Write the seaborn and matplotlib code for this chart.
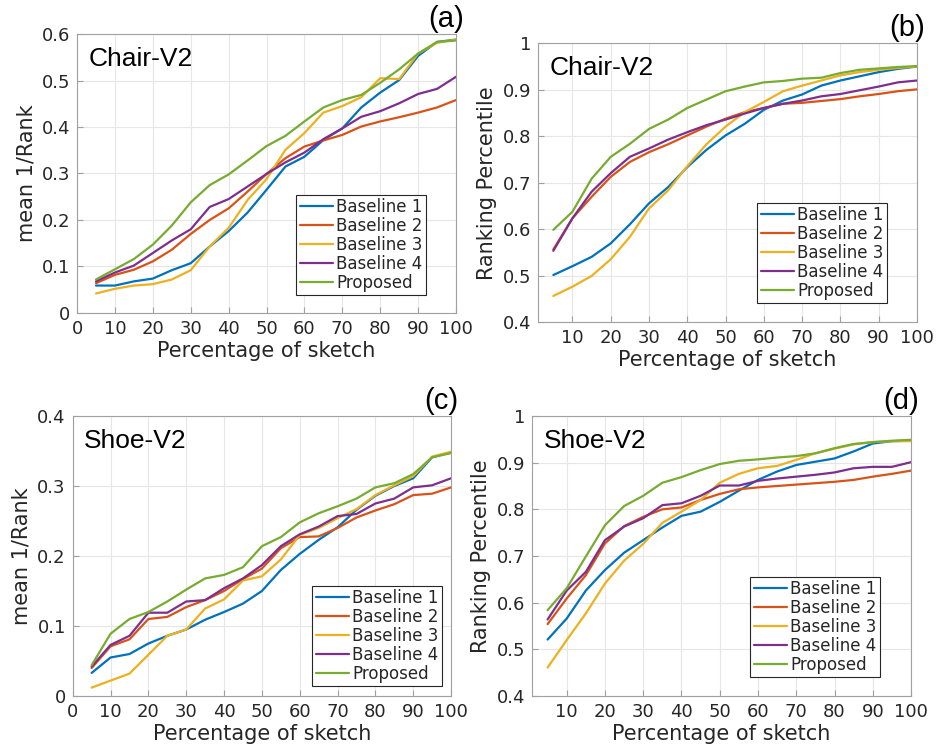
import numpy as np
import pandas as pd
import seaborn as sns
import matplotlib
matplotlib.use("Agg")
import matplotlib.pyplot as plt

# percentage of sketch shown
pct = [5, 10, 15, 20, 25, 30, 35, 40, 45, 50, 55, 60, 65, 70, 75, 80, 85, 90, 95, 100]
methods = ["Baseline 1", "Baseline 2", "Baseline 3", "Baseline 4", "Proposed"]
colors = ["#0072BD", "#D95319", "#EDB120", "#7E2F8E", "#77AC30"]

# (a) Chair-V2, mean 1/Rank
chair_rank_b1 = [0.059, 0.059, 0.068, 0.074, 0.092, 0.107, 0.143, 0.176, 0.216, 0.265,
                 0.315, 0.336, 0.372, 0.397, 0.442, 0.474, 0.501, 0.553, 0.583, 0.588]
chair_rank_b2 = [0.064, 0.082, 0.093, 0.111, 0.136, 0.170, 0.200, 0.225, 0.261, 0.299,
                 0.333, 0.358, 0.371, 0.383, 0.401, 0.412, 0.421, 0.431, 0.442, 0.458]
chair_rank_b3 = [0.042, 0.052, 0.059, 0.062, 0.072, 0.092, 0.143, 0.183, 0.243, 0.288,
                 0.351, 0.387, 0.431, 0.445, 0.464, 0.505, 0.503, 0.558, 0.581, 0.588]
chair_rank_b4 = [0.068, 0.087, 0.102, 0.129, 0.156, 0.180, 0.228, 0.245, 0.272, 0.299,
                 0.324, 0.345, 0.374, 0.397, 0.422, 0.434, 0.451, 0.471, 0.482, 0.508]
chair_rank_pr = [0.072, 0.094, 0.116, 0.147, 0.188, 0.238, 0.275, 0.298, 0.328, 0.359,
                 0.381, 0.412, 0.442, 0.458, 0.469, 0.495, 0.524, 0.558, 0.583, 0.586]

# (b) Chair-V2, ranking percentile
chair_pct_b1 = [0.502, 0.521, 0.541, 0.570, 0.611, 0.656, 0.691, 0.734, 0.771, 0.802,
                0.827, 0.857, 0.877, 0.890, 0.909, 0.920, 0.929, 0.938, 0.945, 0.950]
chair_pct_b2 = [0.557, 0.624, 0.670, 0.713, 0.745, 0.766, 0.783, 0.802, 0.821, 0.838,
                0.852, 0.861, 0.870, 0.872, 0.876, 0.880, 0.886, 0.891, 0.897, 0.901]
chair_pct_b3 = [0.457, 0.477, 0.500, 0.536, 0.584, 0.645, 0.684, 0.736, 0.783, 0.821,
                0.852, 0.874, 0.897, 0.909, 0.920, 0.931, 0.938, 0.943, 0.947, 0.950]
chair_pct_b4 = [0.554, 0.624, 0.681, 0.721, 0.756, 0.774, 0.793, 0.809, 0.824, 0.836,
                0.849, 0.861, 0.870, 0.877, 0.886, 0.891, 0.899, 0.907, 0.916, 0.920]
chair_pct_pr = [0.599, 0.638, 0.709, 0.756, 0.784, 0.816, 0.836, 0.861, 0.879, 0.897,
                0.907, 0.916, 0.919, 0.924, 0.926, 0.936, 0.943, 0.946, 0.949, 0.951]

# (c) Shoe-V2, mean 1/Rank
shoe_rank_b1 = [0.033, 0.055, 0.060, 0.075, 0.086, 0.095, 0.109, 0.120, 0.132, 0.150,
                0.180, 0.203, 0.223, 0.241, 0.266, 0.286, 0.300, 0.311, 0.341, 0.348]
shoe_rank_b2 = [0.040, 0.071, 0.081, 0.110, 0.113, 0.127, 0.137, 0.150, 0.167, 0.182,
                0.211, 0.227, 0.228, 0.240, 0.255, 0.265, 0.274, 0.287, 0.289, 0.298]
shoe_rank_b3 = [0.012, 0.022, 0.032, 0.059, 0.086, 0.095, 0.125, 0.138, 0.165, 0.171,
                0.195, 0.230, 0.240, 0.254, 0.267, 0.287, 0.301, 0.314, 0.342, 0.349]
shoe_rank_b4 = [0.042, 0.073, 0.086, 0.119, 0.119, 0.135, 0.137, 0.154, 0.168, 0.187,
                0.214, 0.231, 0.242, 0.257, 0.260, 0.275, 0.282, 0.298, 0.301, 0.311]
shoe_rank_pr = [0.044, 0.089, 0.110, 0.120, 0.135, 0.152, 0.168, 0.173, 0.184, 0.214,
                0.227, 0.248, 0.261, 0.271, 0.282, 0.298, 0.304, 0.317, 0.341, 0.347]

# (d) Shoe-V2, ranking percentile
shoe_pct_b1 = [0.521, 0.566, 0.626, 0.670, 0.707, 0.734, 0.761, 0.786, 0.795, 0.816,
               0.840, 0.863, 0.881, 0.895, 0.902, 0.909, 0.924, 0.941, 0.946, 0.947]
shoe_pct_b2 = [0.554, 0.609, 0.659, 0.727, 0.764, 0.784, 0.800, 0.804, 0.820, 0.833,
               0.843, 0.847, 0.850, 0.853, 0.856, 0.859, 0.863, 0.870, 0.876, 0.883]
shoe_pct_b3 = [0.461, 0.520, 0.577, 0.641, 0.690, 0.726, 0.771, 0.795, 0.820, 0.857,
               0.876, 0.888, 0.893, 0.906, 0.920, 0.930, 0.939, 0.944, 0.946, 0.946]
shoe_pct_b4 = [0.564, 0.626, 0.666, 0.734, 0.763, 0.781, 0.809, 0.813, 0.829, 0.851,
               0.851, 0.861, 0.866, 0.870, 0.874, 0.879, 0.888, 0.891, 0.891, 0.901]
shoe_pct_pr = [0.584, 0.631, 0.699, 0.766, 0.807, 0.829, 0.857, 0.869, 0.884, 0.897,
               0.904, 0.907, 0.911, 0.914, 0.920, 0.931, 0.940, 0.944, 0.947, 0.949]


def long_df(series):
    rows = []
    for name, vals in zip(methods, series):
        for p, v in zip(pct, vals):
            rows.append({"pct": p, "value": v, "method": name})
    return pd.DataFrame(rows)


panels = [
    ("(a)", "Chair-V2", "mean 1/Rank",
     [chair_rank_b1, chair_rank_b2, chair_rank_b3, chair_rank_b4, chair_rank_pr],
     [0.0823, 0.5849, 0.4049, 0.3700], (0, 100), (0, 0.6),
     np.arange(0, 101, 10), np.arange(0, 0.61, 0.1), (0.921, 0.065)),
    ("(b)", "Chair-V2", "Ranking Percentile",
     [chair_pct_b1, chair_pct_b2, chair_pct_b3, chair_pct_b4, chair_pct_pr],
     [0.5748, 0.5723, 0.4049, 0.3703], (1, 100), (0.4, 1.0),
     np.arange(10, 101, 10), np.arange(0.4, 1.01, 0.1), (0.921, 0.07)),
    ("(c)", "Shoe-V2", "mean 1/Rank",
     [shoe_rank_b1, shoe_rank_b2, shoe_rank_b3, shoe_rank_b4, shoe_rank_pr],
     [0.0777, 0.0769, 0.4042, 0.3714], (0, 100), (0, 0.4),
     np.arange(0, 101, 10), np.arange(0, 0.41, 0.1), (0.976, 0.036)),
    ("(d)", "Shoe-V2", "Ranking Percentile",
     [shoe_pct_b1, shoe_pct_b2, shoe_pct_b3, shoe_pct_b4, shoe_pct_pr],
     [0.5687, 0.0769, 0.4046, 0.3714], (1, 100), (0.4, 1.0),
     np.arange(10, 101, 10), np.arange(0.4, 1.01, 0.1), (0.918, 0.068)),
]

sns.set_style("whitegrid")
plt.rcParams["font.family"] = ["DejaVu Sans"]

fig = plt.figure(figsize=(9.36, 7.54), dpi=100)

for tag, name, ylab, series, rect, xlim, ylim, xt, yt, leg_pos in panels:
    ax = fig.add_axes(rect)
    df = long_df(series)
    sns.lineplot(data=df, x="pct", y="value", hue="method", hue_order=methods,
                 palette=colors, linewidth=1.6, ax=ax)
    ax.set_xlim(*xlim)
    ax.set_ylim(*ylim)
    ax.set_xticks(xt)
    ax.set_yticks(yt)
    ax.set_yticklabels(["%g" % round(v, 1) for v in yt])
    ax.grid(True, color="#e6e6e6", linewidth=0.8)
    for s in ax.spines.values():
        s.set_color("#a0a0a0")
        s.set_linewidth(0.8)
    ax.tick_params(direction="in", length=4, color="#a0a0a0", labelsize=13,
                   labelcolor="#262626", pad=5, top=False, right=False,
                   bottom=True, left=True)
    ax.set_xlabel("Percentage of sketch", fontsize=15, color="#262626", labelpad=2)
    ax.set_ylabel(ylab, fontsize=15, color="#262626", labelpad=4)
    ax.text(0.03, 0.955, name, transform=ax.transAxes, ha="left", va="top",
            fontsize=19, family="Liberation Sans", color="black")
    ax.text(1.02, 1.005, tag, transform=ax.transAxes, ha="right", va="bottom",
            fontsize=21, family="Liberation Sans", color="black")
    leg = ax.legend(loc="lower right", bbox_to_anchor=leg_pos, borderaxespad=0,
                    fontsize=12, frameon=True, fancybox=False, handlelength=2.0,
                    handletextpad=0.2, labelspacing=0.05, borderpad=0.2)
    leg.get_frame().set_edgecolor("#262626")
    leg.get_frame().set_linewidth(0.8)
    leg.get_frame().set_alpha(1)
    for t in leg.get_texts():
        t.set_color("#262626")

fig.savefig("out.png", dpi=100)
